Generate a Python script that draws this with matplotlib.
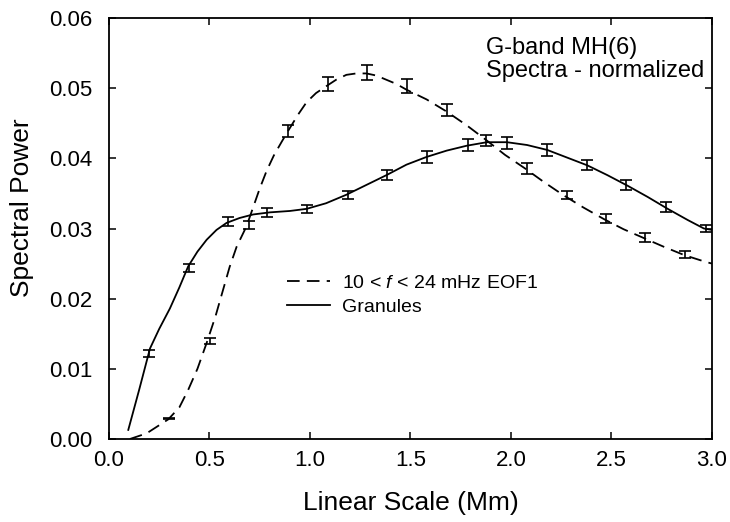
import matplotlib
matplotlib.use('Agg')
import matplotlib.pyplot as plt

plt.rcParams['font.family'] = ['Liberation Sans Narrow', 'Liberation Sans', 'DejaVu Sans']
plt.rcParams['mathtext.fontset'] = 'custom'
plt.rcParams['mathtext.it'] = 'Liberation Sans:italic'
plt.rcParams['mathtext.rm'] = 'Liberation Sans'

# smoothed spectra
gran_x = [0.096, 0.15, 0.204, 0.25, 0.303, 0.35, 0.394, 0.44, 0.486, 0.535, 0.585, 0.65,
          0.717, 0.80, 0.90, 0.983, 1.08, 1.18, 1.28, 1.38, 1.48, 1.58, 1.68, 1.78, 1.88,
          1.98, 2.08, 2.18, 2.28, 2.38, 2.48, 2.58, 2.68, 2.78, 2.88, 2.96, 3.00]
gran_y = [0.0013, 0.0070, 0.0129, 0.0157, 0.0186, 0.0216, 0.0246, 0.0267, 0.0284, 0.0298,
          0.0308, 0.0315, 0.0320, 0.0323, 0.0325, 0.0328, 0.0336, 0.0348, 0.0362, 0.0376,
          0.0391, 0.0402, 0.0411, 0.0418, 0.0423, 0.0423, 0.0419, 0.0412, 0.0401, 0.0390,
          0.0376, 0.0361, 0.0345, 0.0328, 0.0312, 0.0300, 0.0298]

eof_x = [0.104, 0.187, 0.295, 0.35, 0.394, 0.44, 0.486, 0.53, 0.568, 0.60, 0.635, 0.684,
         0.717, 0.75, 0.784, 0.82, 0.86, 0.891, 0.94, 0.983, 1.03, 1.082, 1.13, 1.181, 1.23,
         1.281, 1.33, 1.38, 1.43, 1.479, 1.58, 1.678, 1.78, 1.877, 1.97, 2.068, 2.16,
         2.258, 2.36, 2.465, 2.56, 2.664, 2.76, 2.863, 2.962, 3.00]
eof_y = [0.0000, 0.0008, 0.0028, 0.0045, 0.0070, 0.0100, 0.0137, 0.0175, 0.0213, 0.0245,
         0.0274, 0.0303, 0.0330, 0.0357, 0.0382, 0.0404, 0.0424, 0.0439, 0.0462, 0.0480,
         0.0493, 0.0503, 0.0512, 0.0519, 0.0521, 0.0521, 0.0518, 0.0512, 0.0506, 0.0498,
         0.0484, 0.0467, 0.0447, 0.0426, 0.0405, 0.0386, 0.0367, 0.0348, 0.0330, 0.0313,
         0.0299, 0.0286, 0.0274, 0.0262, 0.0253, 0.0250]

# sampled points with errors
gran_px = [0.197, 0.396, 0.591, 0.786, 0.983, 1.187, 1.382, 1.581, 1.785, 1.982, 2.18,
           2.376, 2.574, 2.771, 2.972]
gran_py = [0.0122, 0.0244, 0.0310, 0.0323, 0.0328, 0.0348, 0.0376, 0.0402, 0.0419, 0.0422,
           0.0412, 0.0390, 0.0362, 0.0331, 0.0300]
gran_err = [0.0005, 0.0006, 0.0006, 0.0006, 0.0006, 0.0006, 0.0007, 0.0008, 0.0008, 0.0008,
            0.0009, 0.0007, 0.0007, 0.0007, 0.0005]

eof_px = [0.299, 0.503, 0.696, 0.89, 1.09, 1.285, 1.484, 1.681, 1.878, 2.08, 2.277, 2.474,
          2.669, 2.868]
eof_py = [0.0029, 0.0140, 0.0305, 0.0439, 0.0506, 0.0522, 0.0503, 0.0469, 0.0425, 0.0386,
          0.0348, 0.0314, 0.0287, 0.0263]
eof_err = [0.0001, 0.0004, 0.0006, 0.0009, 0.0010, 0.0011, 0.0010, 0.0008, 0.0008, 0.0008,
           0.0006, 0.0006, 0.0006, 0.0005]

fig = plt.figure(figsize=(7.3, 5.22), dpi=100)
ax = fig.add_axes([0.1493, 0.159, 0.826, 0.8065])

ax.plot(eof_x, eof_y, color='k', lw=1.3, ls=(0, (7, 4)), label=r'10 < $\mathit{f}$ < 24 mHz EOF1')
ax.plot(gran_x, gran_y, color='k', lw=1.3, label='Granules')
ax.errorbar(eof_px, eof_py, yerr=eof_err, fmt='none', ecolor='k', elinewidth=1.2,
            capsize=4.5, capthick=1.2)
ax.errorbar(gran_px, gran_py, yerr=gran_err, fmt='none', ecolor='k', elinewidth=1.2,
            capsize=4.5, capthick=1.2)

ax.set_xlim(0, 3.0)
ax.set_ylim(0, 0.06)
ax.set_xticks([0.0, 0.5, 1.0, 1.5, 2.0, 2.5, 3.0])
ax.set_yticks([0.0, 0.01, 0.02, 0.03, 0.04, 0.05, 0.06])
ax.xaxis.set_major_formatter(matplotlib.ticker.FormatStrFormatter('%.1f'))
ax.yaxis.set_major_formatter(matplotlib.ticker.FormatStrFormatter('%.2f'))
ax.tick_params(direction='in', length=5, width=1.1, top=True, right=True, labelsize=16)
ax.tick_params(axis='y', pad=12)
ax.tick_params(axis='x', pad=8)
for s in ax.spines.values():
    s.set_linewidth(1.3)

ax.set_xlabel('Linear Scale (Mm)', fontsize=19, labelpad=14)
ax.set_ylabel('Spectral Power', fontsize=19, labelpad=12)
ax.yaxis.set_label_coords(-0.125, 0.55)

ax.text(0.625, 0.955, 'G-band MH(6)\nSpectra - normalized', transform=ax.transAxes,
        fontsize=17, va='top', ha='left', linespacing=1.05)

ax.legend(loc='upper left', bbox_to_anchor=(0.283, 0.409), frameon=False, fontsize=14,
          handlelength=2.2, handletextpad=0.6, labelspacing=0.3, borderaxespad=0)

fig.savefig('out.png', dpi=100)
